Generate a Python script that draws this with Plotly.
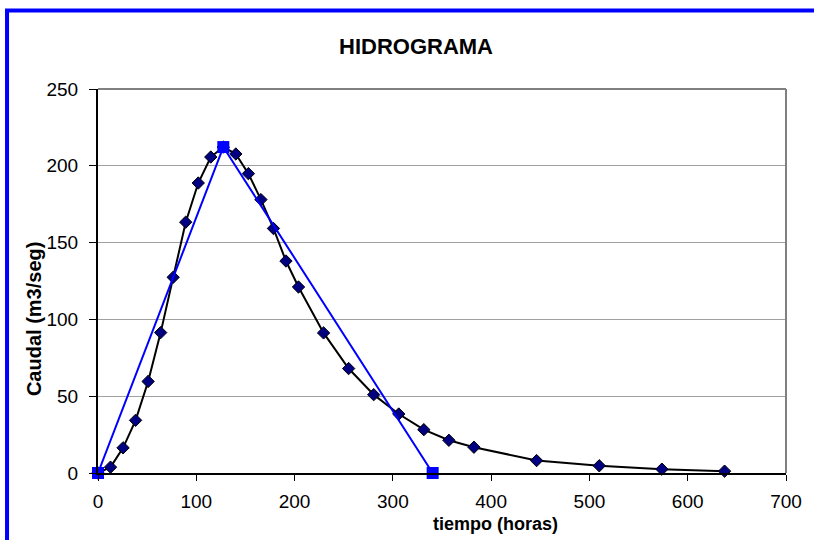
import plotly.graph_objects as go

# Hydrograph (black diamonds)
tiempo = [0, 12.75, 25.5, 38.25, 51, 63.75, 76.5, 89.25, 102, 114.75, 127.5,
          140.25, 153, 165.75, 178.5, 191.25, 204, 229.5, 255, 280.5, 306,
          331.5, 357, 382.5, 446.25, 510, 573.75, 637.5]
caudal = [0, 3.8, 16.4, 34.3, 59.6, 91.4, 127.4, 163.3, 188.8, 205.7, 212.2,
          207.7, 194.9, 178.0, 159.2, 138.0, 121.1, 91.2, 68.0, 51.0, 38.4,
          28.2, 21.3, 16.8, 8.1, 4.7, 2.5, 1.2]

# Triangular hydrograph (blue squares)
tiempo_tri = [0, 127.5, 340.5]
caudal_tri = [0, 212.2, 0]

x_ticks = [0, 100, 200, 300, 400, 500, 600, 700]
y_ticks = [0, 50, 100, 150, 200, 250]

FONT = "Liberation Sans, Arial, sans-serif"

fig = go.Figure()
fig.add_trace(go.Scatter(
    x=tiempo, y=caudal, mode="lines+markers",
    line=dict(color="black", width=2),
    marker=dict(symbol="diamond", size=9.5, color="#000080",
                line=dict(color="black", width=1)),
    showlegend=False, cliponaxis=False))
fig.add_trace(go.Scatter(
    x=tiempo_tri, y=caudal_tri, mode="lines+markers",
    line=dict(color="#0000FF", width=2),
    marker=dict(symbol="square", size=12, color="#0000FF"),
    showlegend=False, cliponaxis=False))

L, R, T, B = 98, 790, 89, 473.5
W, H = 814, 540
pw, ph = R - L, B - T

def px2paper_x(px):
    return (px - L) / pw

def px2paper_y(py):
    return (B - py) / ph

fig.update_layout(
    width=W, height=H,
    margin=dict(l=L, r=W - R, t=T, b=H - B),
    paper_bgcolor="white", plot_bgcolor="white",
    font=dict(family=FONT, color="black", size=19),
    title=dict(text="<b>HIDROGRAMA</b>", x=416 / W, xanchor="center",
               xref="container", y=1 - 46 / H, yanchor="middle",
               yref="container", font=dict(size=22, family=FONT, color="black")),
    xaxis=dict(range=[0, 700], tickvals=x_ticks, showgrid=False,
               zeroline=False, showline=True, linecolor="black", linewidth=2,
               ticks="outside", ticklen=6, tickcolor="black",
               ticklabelstandoff=4,
               tickfont=dict(size=19, family=FONT), mirror=False),
    yaxis=dict(range=[0, 250], tickvals=y_ticks, showgrid=True,
               gridcolor="#A0A0A0", gridwidth=1, zeroline=False,
               showline=True, linecolor="black", linewidth=2,
               ticks="outside", ticklen=7, tickcolor="black",
               ticklabelstandoff=7,
               tickfont=dict(size=19, family=FONT)),
    shapes=[
        # gray top/right border of plot area
        dict(type="line", xref="paper", yref="paper", x0=0, x1=1, y0=1, y1=1,
             line=dict(color="#808080", width=2)),
        dict(type="line", xref="paper", yref="paper", x0=1, x1=1, y0=0, y1=1,
             line=dict(color="#808080", width=2)),
        # blue chart frame
        dict(type="rect", xref="paper", yref="paper",
             x0=px2paper_x(6.5), x1=px2paper_x(900),
             y0=px2paper_y(600), y1=px2paper_y(10.5),
             line=dict(color="#0000FF", width=4), layer="below"),
    ],
    annotations=[
        dict(text="<b>tiempo (horas)</b>", xref="paper", yref="paper",
             x=px2paper_x(498), y=px2paper_y(525), showarrow=False,
             xanchor="center", yanchor="middle",
             font=dict(size=18, family=FONT)),
        dict(text="<b>Caudal (m3/seg)</b>", xref="paper", yref="paper",
             x=px2paper_x(33.5), y=px2paper_y(319.5), showarrow=False,
             textangle=-90, xanchor="center", yanchor="middle",
             font=dict(size=20, family=FONT)),
    ],
)

fig.write_html(
    "out.html",
    config={"displayModeBar": False},
    post_script="document.body.style.margin='0';document.body.style.overflow='hidden';",
)
